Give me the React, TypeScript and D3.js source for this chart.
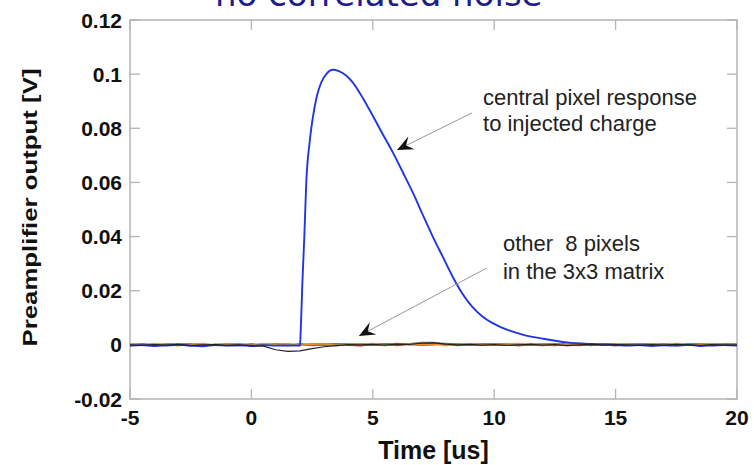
import React from 'react';
import * as d3 from 'd3';

// ---------- data ----------
const sampleTimes = [-5,-4.5,-4,-3.5,-3,-2.5,-2,-1.5,-1,-0.5,0,0.5,1,1.5,2,2.5,3,3.5,4,4.5,5,5.5,6,6.5,7,7.5,8,8.5,9,9.5,10,10.5,11,11.5,12,12.5,13,13.5,14,14.5,15,15.5,16,16.5,17,17.5,18,18.5,19,19.5,20];

// other 8 pixels (mV)
const pixelOrange = [0.3,-0.2,0.4,0.1,-0.3,0.2,0.5,-0.1,0.3,0.0,-0.2,0.4,0.1,0.3,-0.1,0.2,0.4,-0.2,0.3,0.1,0.5,-0.1,0.2,0.4,0.0,0.3,-0.2,0.2,0.4,0.1,-0.1,0.3,0.5,0.0,0.2,-0.3,0.4,0.1,0.3,-0.1,0.2,0.4,-0.2,0.3,0.1,0.5,-0.1,0.2,0.3,0.0,0.2];
const pixelGreen = [0.1,0.3,-0.1,0.2,0.0,0.4,-0.2,0.1,0.3,-0.1,0.2,0.0,0.3,0.1,-0.2,0.2,0.4,0.1,-0.1,0.3,0.0,0.2,0.5,0.1,0.3,0.6,0.2,0.4,0.1,0.3,0.0,0.2,-0.1,0.3,0.1,0.4,0.0,0.2,-0.2,0.3,0.1,0.4,0.2,-0.1,0.3,0.0,0.2,0.4,0.1,0.3,0.2];
const pixelRed = [-0.2,0.1,-0.3,0.0,0.2,-0.1,-0.3,0.1,0.0,-0.2,0.2,-0.1,0.0,-0.3,0.1,-0.2,0.0,0.2,-0.1,-0.3,0.1,0.0,-0.2,0.2,-0.1,0.0,0.3,-0.2,0.1,-0.1,0.0,0.2,-0.3,0.1,-0.1,0.0,0.2,-0.2,0.1,0.0,-0.3,0.1,0.0,-0.1,0.2,-0.2,0.0,0.1,-0.3,0.1,0.0];
const pixelTeal = [0.2,0.0,-0.1,0.3,0.1,-0.2,0.2,0.0,0.1,0.3,-0.1,0.2,0.0,-0.2,0.3,0.1,-0.1,0.2,0.4,0.0,0.1,-0.2,0.3,0.1,0.2,0.4,0.5,0.2,0.0,0.3,0.1,-0.1,0.2,0.0,0.3,0.1,-0.2,0.2,0.0,0.1,0.3,-0.1,0.1,0.2,0.0,-0.2,0.3,0.1,0.0,0.2,0.1];
const pixelPurple = [0.0,0.2,0.1,-0.2,0.0,0.3,0.1,-0.1,0.2,0.0,0.1,-0.2,0.3,0.0,0.2,-0.1,0.1,0.3,0.0,-0.2,0.2,0.1,0.0,0.3,0.2,0.5,0.1,-0.1,0.2,0.0,0.3,0.1,-0.1,0.2,0.0,0.1,0.3,-0.1,0.0,0.2,-0.1,0.1,0.2,0.0,0.3,-0.1,0.1,0.0,0.2,-0.1,0.0];
const pixelOlive = [0.1,-0.1,0.2,0.0,0.3,0.1,-0.2,0.0,0.1,0.2,0.0,0.3,-0.1,0.1,0.0,0.2,-0.1,0.1,0.3,0.2,0.0,0.4,0.1,0.2,0.3,0.6,0.4,0.1,0.3,0.0,0.2,0.1,0.3,-0.1,0.2,0.0,0.1,0.3,0.0,0.2,0.1,-0.1,0.2,0.3,0.0,0.1,0.2,-0.1,0.3,0.1,0.2];
const pixelGray = [-0.1,0.1,0.0,-0.2,0.2,0.0,-0.1,0.1,-0.2,0.0,0.1,-0.1,0.0,0.2,-0.1,0.1,0.0,-0.2,0.1,0.0,0.2,0.1,0.3,0.4,0.9,0.9,0.3,0.1,-0.1,0.2,0.0,-0.1,0.1,0.0,-0.2,0.1,0.0,0.2,-0.1,0.0,0.1,-0.1,0.0,0.2,-0.1,0.1,0.0,-0.1,0.2,0.0,0.1];
const pixelBlack = [0.0,-0.2,0.1,-0.1,0.2,-0.3,0.0,0.1,-0.2,0.0,-0.3,-0.5,-1.8,-2.4,-2.2,-1.4,-0.7,-0.3,0.1,0.0,0.2,-0.1,0.3,0.2,0.6,0.7,0.3,0.0,0.2,-0.1,0.1,-0.2,0.0,0.2,-0.1,0.1,-0.3,0.0,0.2,-0.1,0.1,0.0,-0.2,0.1,-0.1,0.2,0.0,-0.2,0.1,-0.1,0.0];

// central pixel response (us, mV)
const centralTimes = [-5,-4.5,-4,-3.5,-3,-2.5,-2,-1.5,-1,-0.5,0,0.5,1,1.5,1.95,
  2.0,2.05,2.1,2.18,2.26,2.4,2.54,2.7,2.88,3.1,3.36,3.6,3.9,4.18,4.6,5.0,5.4,5.83,6.25,6.65,7.05,7.47,7.9,8.3,8.7,9.1,9.5,9.9,10.5,11.2,12.0,13.0,14.0,15.0,
  15.5,16,16.5,17,17.5,18,18.5,19,19.5,20];
const centralValues = [-0.3,-0.1,-0.4,-0.2,0.0,-0.3,-0.5,-0.1,-0.3,-0.2,-0.4,-0.1,-0.3,-0.2,-0.3,
  0.0,10,23,40,60,75,84.5,92,97,100.2,101.6,101.1,99.5,96.9,91,84.6,78,71,63.5,56.2,48.2,40,32.2,25,18.8,14,10.6,8.2,5.7,3.7,2.3,0.9,0.3,0.0,
  -0.3,-0.1,-0.4,-0.2,-0.3,0.0,-0.4,-0.2,-0.1,-0.3];

const pixelSeries = [
  { name: 'olive', values: pixelOlive, color: '#8c8c1e' },
  { name: 'purple', values: pixelPurple, color: '#8a4fb0' },
  { name: 'teal', values: pixelTeal, color: '#2a9a9a' },
  { name: 'red', values: pixelRed, color: '#d03a2a' },
  { name: 'green', values: pixelGreen, color: '#4c9a44' },
  { name: 'gray', values: pixelGray, color: '#777777' },
  { name: 'orange', values: pixelOrange, color: '#ee8a2c' },
];

const xTicks = [-5, 0, 5, 10, 15, 20];
const xTickLabels = ['-5', '0', '5', '10', '15', '20'];
const yTicks = [-0.02, 0, 0.02, 0.04, 0.06, 0.08, 0.1, 0.12];
const yTickLabels = ['-0.02', '0', '0.02', '0.04', '0.06', '0.08', '0.1', '0.12'];

// annotations (data coordinates)
const annotCentral = { lines: ['central pixel response', 'to injected charge'], tx: 9.54, ty: [0.0887, 0.0790], from: [9.09, 0.0857], to: [6.0, 0.072] };
const annotOthers = { lines: ['other  8 pixels', 'in the 3x3 matrix'], tx: 10.36, ty: [0.0345, 0.0245], from: [9.7, 0.0284], to: [4.43, 0.0033] };

// ---------- layout ----------
const W = 754, H = 465;
const X0 = 130, X1 = 737, Y0 = 399, Y1 = 20;
const FONT = 'Arial, "Liberation Sans", Helvetica, sans-serif';

export default function App() {
  const x = d3.scaleLinear().domain([-5, 20]).range([X0, X1]);
  const y = d3.scaleLinear().domain([-0.02, 0.12]).range([Y0, Y1]);
  const line = d3.line<[number, number]>().x(d => x(d[0])).y(d => y(d[1]));
  const smooth = d3.line<[number, number]>().x(d => x(d[0])).y(d => y(d[1])).curve(d3.curveMonotoneX);
  const mk = (ts: number[], vs: number[]) => ts.map((t, i) => [t, vs[i] / 1000] as [number, number]);
  const tickLen = 10;
  const frame = '#b4b4b4';

  const renderAnnot = (a: typeof annotCentral, key: string) => (
    <g key={key}>
      <line x1={x(a.from[0])} y1={y(a.from[1])} x2={x(a.to[0])} y2={y(a.to[1])} stroke="#999" strokeWidth={1} markerEnd="url(#arrowHead)" />
      {a.lines.map((l, i) => (
        <text key={i} x={x(a.tx)} y={y(a.ty[i])} fontFamily={FONT} fontSize={22} fill="#222" style={{ whiteSpace: 'pre' }} xmlSpace="preserve">{l}</text>
      ))}
    </g>
  );

  return (
    <svg width={W} height={H} style={{ position: 'absolute', left: 0, top: 0, background: '#fff' }}>
      <defs>
        <marker id="arrowHead" viewBox="-17 -8 18 16" refX={0} refY={0} markerWidth={18} markerHeight={16} markerUnits="userSpaceOnUse" orient="auto">
          <path d="M0,0 L-16,-7 L-10,0 L-16,7 Z" fill="#111" />
        </marker>
        <clipPath id="plotClip">
          <rect x={X0} y={Y1} width={X1 - X0} height={Y0 - Y1} />
        </clipPath>
      </defs>
      <rect x={0} y={0} width={W} height={H} fill="#fff" />

      {/* slide title, cut off at the top edge as in the source */}
      <text x={215} y={6} fontFamily='"DejaVu Sans", sans-serif' fontSize={34} fill="#1c1c8e">no correlated noise</text>

      {/* frame */}
      <rect x={X0} y={Y1} width={X1 - X0} height={Y0 - Y1} fill="none" stroke={frame} strokeWidth={1.5} />
      {xTicks.map(t => (
        <g key={'xt' + t}>
          <line x1={x(t)} x2={x(t)} y1={Y0} y2={Y0 - tickLen} stroke={frame} strokeWidth={1.3} />
          <line x1={x(t)} x2={x(t)} y1={Y1} y2={Y1 + tickLen} stroke={frame} strokeWidth={1.3} />
        </g>
      ))}
      {yTicks.map(v => (
        <g key={'yt' + v}>
          <line x1={X0} x2={X0 + tickLen} y1={y(v)} y2={y(v)} stroke={frame} strokeWidth={1.3} />
          <line x1={X1} x2={X1 - tickLen} y1={y(v)} y2={y(v)} stroke={frame} strokeWidth={1.3} />
        </g>
      ))}

      {/* series */}
      <g clipPath="url(#plotClip)" fill="none">
        {pixelSeries.map(s => (
          <path key={s.name} d={line(mk(sampleTimes, s.values)) || ''} stroke={s.color} strokeWidth={1.5} />
        ))}
        <path d={smooth(mk(centralTimes, centralValues)) || ''} stroke="#2036e0" strokeWidth={1.9} strokeLinejoin="round" />
        <path d={line(mk(sampleTimes, pixelBlack)) || ''} stroke="#222" strokeWidth={1.2} />
      </g>

      {/* tick labels */}
      {xTicks.map((t, i) => (
        <text key={'xl' + t} x={x(t)} y={425} textAnchor="middle" fontFamily={FONT} fontWeight="bold" fontSize={21} fill="#111">{xTickLabels[i]}</text>
      ))}
      {yTicks.map((v, i) => (
        <text key={'yl' + v} x={122} y={y(v)} dy="0.36em" textAnchor="end" fontFamily={FONT} fontWeight="bold" fontSize={21} fill="#111">{yTickLabels[i]}</text>
      ))}

      {/* axis titles */}
      <text x={(X0 + X1) / 2} y={459} textAnchor="middle" fontFamily={FONT} fontWeight="bold" fontSize={25} fill="#111">Time [us]</text>
      <text transform={`translate(37,${(Y0 + Y1) / 2 - 2}) rotate(-90)`} textAnchor="middle" fontFamily={FONT} fontWeight="bold" fontSize={21} textLength={278} lengthAdjust="spacingAndGlyphs" fill="#111">Preamplifier output [V]</text>

      {/* annotations */}
      {renderAnnot(annotCentral, 'a1')}
      {renderAnnot(annotOthers, 'a2')}
    </svg>
  );
}
